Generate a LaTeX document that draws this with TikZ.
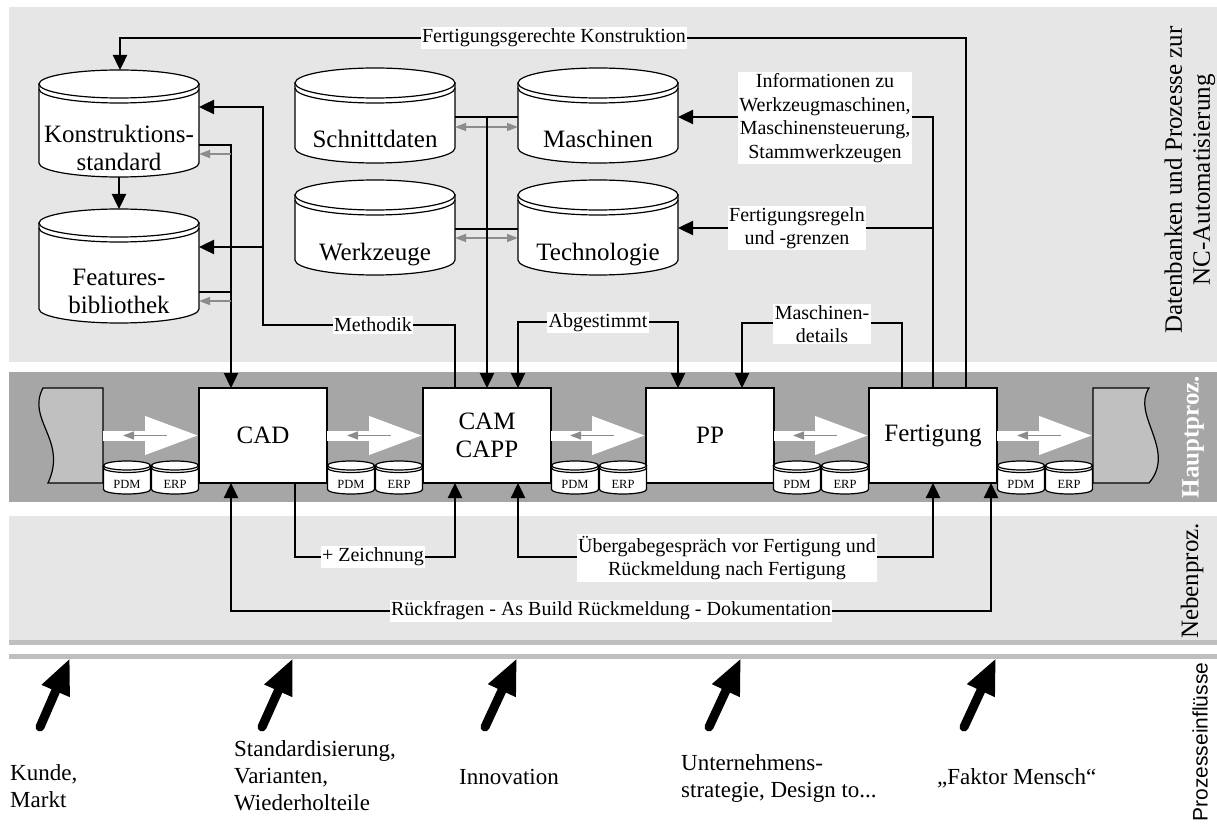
\documentclass[tikz,border=0pt]{standalone}
\usepackage{fontspec}
\setmainfont{Liberation Serif}
\newfontfamily\sansfam{Liberation Sans}
\usetikzlibrary{arrows.meta,calc}

\definecolor{panelgray}{HTML}{E6E6E6}
\definecolor{bandgray}{HTML}{A6A6A6}
\definecolor{docgray}{HTML}{C0C0C0}
\definecolor{stripgray}{HTML}{BFBFBF}
\definecolor{hintgray}{HTML}{8C8C8C}

\newcommand\fbig{\fontsize{25}{28}\selectfont}
\newcommand\flbl{\fontsize{20}{23.5}\selectfont}
\newcommand\fbot{\fontsize{23}{27}\selectfont}
\newcommand\fsmall{\fontsize{12.5}{14}\selectfont}

\tikzset{
  cylbody/.style={fill=white, draw=black, line width=1.2pt},
  cylline/.style={draw=black, line width=1.2pt},
  hull/.style={draw=none, inner sep=0pt, outer sep=0pt},
  dbtext/.style={font=\fbig, align=center, inner sep=0pt},
  smalltext/.style={font=\fsmall, inner sep=0pt, anchor=base},
  procbox/.style={draw=black, fill=white, line width=1.2pt, minimum width=128pt,
    minimum height=95pt, inner sep=0pt, outer sep=0pt, font=\fbig, align=center},
  docstyle/.style={fill=docgray, draw=black, line width=1.2pt},
  flow/.style={line width=2.4pt, -{Triangle[length=15pt,width=14pt]}},
  flowboth/.style={line width=2.4pt, {Triangle[length=15pt,width=14pt]}-{Triangle[length=15pt,width=14pt]}},
  plain/.style={line width=2.4pt},
  hint/.style={draw=hintgray, line width=1.4pt, -{Triangle[length=11pt,width=8pt]}},
  hintboth/.style={draw=hintgray, line width=1.4pt, {Triangle[length=11pt,width=8pt]}-{Triangle[length=11pt,width=8pt]}},
  bigflow/.style={draw=white, line width=10pt, -{Triangle[length=54pt,width=36pt]}},
  lbl/.style={fill=white, font=\flbl, align=center, inner sep=1.5pt},
  influence/.style={line width=9pt, line cap=round, -{Triangle[length=36pt,width=28pt]}},
  bottomtext/.style={font=\fbot, align=left, inner sep=0pt, anchor=west},
  sidetext/.style={font=\fbig, align=center, rotate=90, inner sep=0pt},
}

% database cylinder: name, centre x, top y, half width, height, ellipse radius, rim offset
\newcommand\dbcyl[7]{%
  \path[cylbody] ({#2-#4},{#3+#6}) -- ({#2-#4},{#3+#5-#6})
    arc[start angle=180,end angle=360,x radius=#4pt,y radius=#6pt]
    -- ({#2+#4},{#3+#6}) -- cycle;
  \path[cylbody] ({#2},{#3+#6}) ellipse[x radius=#4pt,y radius=#6pt];
  \draw[cylline] ({#2-#4},{#3+#6+#7})
    arc[start angle=180,end angle=360,x radius=#4pt,y radius=#6pt];
  \node[hull, minimum width={2*#4pt}, minimum height={#5pt}] (#1) at ({#2},{#3+#5/2}) {};
}

% PDM/ERP pair in the gap starting at x = #2
\newcommand\pdmerp[2]{%
  \dbcyl{pdm#1}{#2+24}{461}{23.5}{33}{4.5}{2.5}
  \node[smalltext] (pdm#1-t) at ({#2+24},488) {PDM};
  \dbcyl{erp#1}{#2+72}{461}{23.5}{33}{4.5}{2.5}
  \node[smalltext] (erp#1-t) at ({#2+72},488) {ERP};
}

% white hand-over arrow between two process steps
\newcommand\procflow[2]{%
  \draw[bigflow] (#1.east |- #2.west) -- (#2.west);
  \draw[hint] ($(#2.west)+(-32,0)$) -- ($(#2.west)+(-76,0)$);
}

\begin{document}
\begin{tikzpicture}[x=1pt,y=-1pt]
\useasboundingbox (0,0) rectangle (1217,826);

% background bands
\fill[panelgray] (9,7) rectangle (1217,362);
\fill[bandgray] (9,372) rectangle (1217,502);
\fill[panelgray] (9,516) rectangle (1217,640);
\fill[stripgray] (9,640) rectangle (1217,645);
\fill[stripgray] (9,654) rectangle (1217,659);

% side captions
\node[sidetext] (cap-db) at (1190,180) {Datenbanken und Prozesse zur\\NC-Automatisierung};
\node[sidetext, text=white, font=\fbig\bfseries] (cap-hp) at (1193,437) {Hauptproz.};
\node[sidetext] (cap-np) at (1192,581) {Nebenproz.};
\node[sidetext, font=\sansfam\fontsize{21}{24}\selectfont] (cap-pe) at (1200,742) {Prozesseinflüsse};

% databases
\dbcyl{ks}{119}{70}{80}{107}{14}{5}
\node[dbtext] (ks-t) at (119,148) {Konstruktions-\\standard};
\dbcyl{fb}{119}{209}{80}{114}{14}{5}
\node[dbtext] (fb-t) at (119,291) {Features-\\bibliothek};
\dbcyl{sd}{375}{68}{80}{95}{15}{5}
\node[dbtext, anchor=base] (sd-t) at (375,148) {Schnittdaten};
\dbcyl{ma}{598}{68}{80}{95}{15}{5}
\node[dbtext, anchor=base] (ma-t) at (598,148) {Maschinen};
\dbcyl{wz}{375}{180}{80}{95}{15}{5}
\node[dbtext, anchor=base] (wz-t) at (375,260) {Werkzeuge};
\dbcyl{te}{598}{180}{80}{95}{15}{5}
\node[dbtext, anchor=base] (te-t) at (598,260) {Technologie};

% side documents of the main process
\path[docstyle] (43,388) -- (103,388) -- (103,483) -- (48,483)
  .. controls (68,440) and (26,420) .. (43,388) -- cycle;
\node[hull, minimum width=63pt, minimum height=95pt] (docl) at (71.5,435.5) {};
\path[docstyle] (1093,388) -- (1149,388) .. controls (1131,415) and (1177,450) .. (1149,483)
  -- (1093,483) -- cycle;
\node[hull, minimum width=56pt, minimum height=95pt] (docr) at (1121,435.5) {};

% process steps
\node[procbox] (cad) at (263,435.5) {CAD};
\node[procbox] (cam) at (487,435.5) {CAM\\CAPP};
\node[procbox] (pp) at (710,435.5) {PP};
\node[procbox] (fert) at (933,435.5) {Fertigung};

\procflow{docl}{cad}
\procflow{cad}{cam}
\procflow{cam}{pp}
\procflow{pp}{fert}
\procflow{fert}{docr}

\pdmerp{1}{103}
\pdmerp{2}{327}
\pdmerp{3}{551}
\pdmerp{4}{773}
\pdmerp{5}{997}

% connectors in the database area
\draw[flow] (fert.north -| 966,0) -- (966,38) -- (120,38) -- (ks.north -| 120,0);
\draw[flow] (ks.south) -- (fb.north);
\draw[flow] (cam.north -| 455,0) -- (455,325) -- (263,325) -- (263,107) -- (ks.east |- 0,107);
\coordinate (mjunc) at (263,247);
\draw[flow] (mjunc) -- (fb.east |- mjunc);
\draw[flow] (ks.east |- 0,145) -- (231,145) -- (cad.north -| 231,0);
\draw[plain] (fb.east |- 0,292) -- (231,292);
\draw[hint] (231,154) -- (ks.east |- 0,154);
\draw[hint] (231,301) -- (fb.east |- 0,301);

\draw[plain] (sd.east |- 0,117) -- (ma.west |- 0,117);
\draw[plain] (wz.east |- 0,229) -- (te.west |- 0,229);
\draw[hintboth] (sd.east |- 0,127) -- (ma.west |- 0,127);
\draw[hintboth] (wz.east |- 0,238) -- (te.west |- 0,238);
\coordinate (dbjunc) at (487,117);
\draw[flow] (dbjunc) -- (cam.north);

\draw[flowboth] (cam.north -| 518,0) -- (518,322) -- (678,322) -- (pp.north -| 678,0);
\draw[flow] (fert.north -| 902,0) -- (902,323) -- (742,323) -- (pp.north -| 742,0);
\draw[flow] (fert.north) -- (933,117) -- (ma.east |- 0,117);
\coordinate (fjunc) at (933,228);
\draw[flow] (fjunc) -- (te.east |- fjunc);

% connectors in the side process area
\draw[flow] (cad.south -| 295,0) -- (295,557) -- (455,557) -- (cam.south -| 455,0);
\draw[flowboth] (cam.south -| 518,0) -- (518,557) -- (933,557) -- (fert.south);
\draw[flowboth] (cad.south -| 231,0) -- (231,611) -- (991,611) -- (fert.south -| 991,0);

% connector labels
\node[lbl] (l-fk) at (554,38) {Fertigungsgerechte Konstruktion};
\node[lbl] (l-me) at (373,325) {Methodik};
\node[lbl] (l-ab) at (598,322.5) {Abgestimmt};
\node[lbl] (l-md) at (822,324) {Maschinen-\\details};
\node[lbl] (l-in) at (825,118) {Informationen zu\\Werkzeugmaschinen,\\Maschinensteuerung,\\Stammwerkzeugen};
\node[lbl] (l-fr) at (797,228) {Fertigungsregeln\\und -grenzen};
\node[lbl] (l-ze) at (373,557) {+ Zeichnung};
\node[lbl] (l-ue) at (727,558) {Übergabegespräch vor Fertigung und\\Rückmeldung nach Fertigung};
\node[lbl] (l-rf) at (611,611) {Rückfragen - As Build Rückmeldung - Dokumentation};

% process influences
\coordinate (i1a) at (40,727);  \coordinate (i1b) at (70,658);
\coordinate (i2a) at (262,727); \coordinate (i2b) at (293,658);
\coordinate (i3a) at (485,727); \coordinate (i3b) at (517,658);
\coordinate (i4a) at (709,727); \coordinate (i4b) at (741,658);
\coordinate (i5a) at (964,727); \coordinate (i5b) at (996,658);
\foreach \k in {1,...,5} \draw[influence] (i\k a) -- (i\k b);

\node[bottomtext] (t-kunde) at (10,786) {Kunde,\\Markt};
\node[bottomtext] (t-std) at (234,776) {Standardisierung,\\Varianten,\\Wiederholteile};
\node[bottomtext, anchor=base west] (t-inno) at (459,784) {Innovation};
\node[bottomtext] (t-unt) at (681,778) {Unternehmens-\\strategie, Design to...};
\node[bottomtext, anchor=base west] (t-mensch) at (937,784) {„Faktor Mensch“};

\end{tikzpicture}
\end{document}
